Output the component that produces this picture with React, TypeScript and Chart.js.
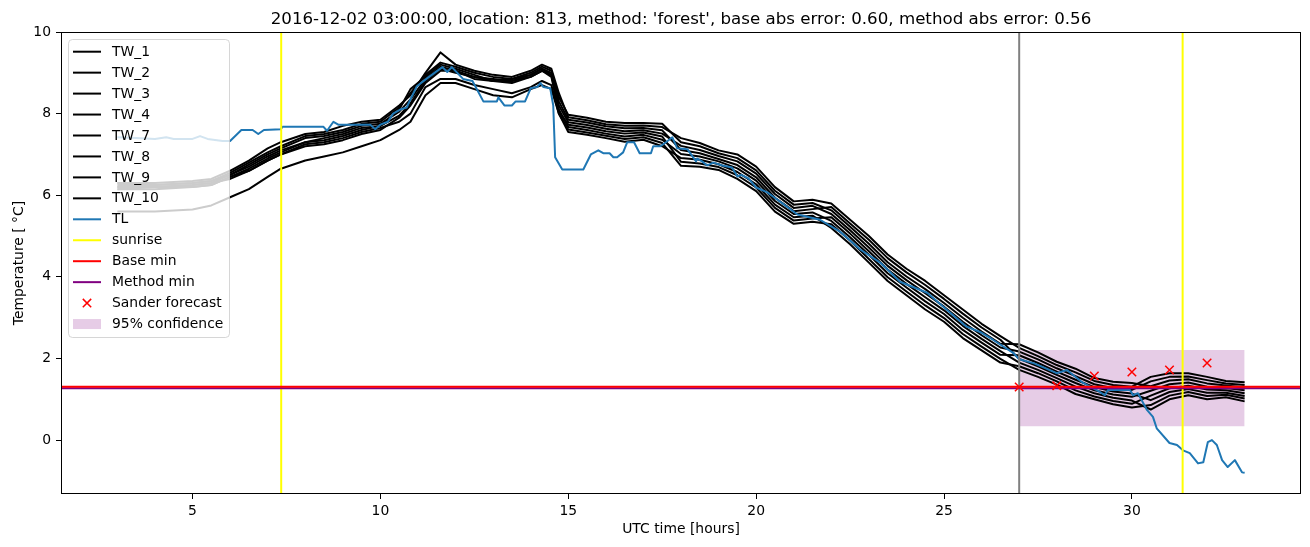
import React, { useEffect, useRef } from "react";
import { Chart, registerables } from "chart.js";

Chart.register(...registerables);

const FONT = "'DejaVu Sans', sans-serif";
const TITLE =
  "2016-12-02 03:00:00, location: 813, method: 'forest', base abs error: 0.60, method abs error: 0.56";
const X_LABEL = "UTC time [hours]";
const Y_LABEL = "Temperature [ °C]";

const X_MIN = 1.5;
const X_MAX = 34.5;
const Y_MIN = -1.32;
const Y_MAX = 10.0;
const X_TICKS = [5, 10, 15, 20, 25, 30];
const Y_TICKS = [0, 2, 4, 6, 8, 10];

const TW_X = [
  3, 4, 5, 5.5, 6, 6.5, 7, 7.35, 8, 8.5, 9, 9.5, 10, 10.5, 10.8, 11.2, 11.6, 12, 12.5, 13,
  13.5, 14, 14.3, 14.55, 14.75, 15, 15.5, 16, 16.5, 17, 17.5, 18, 18.5, 19, 19.5, 20, 20.5, 21,
  21.5, 22, 22.5, 23, 23.5, 24, 24.5, 25, 25.5, 26, 26.5, 27, 27.5, 28, 28.5, 29, 29.5, 30,
  30.5, 31, 31.5, 32, 32.5, 33,
];
const TW_1 = [
  6.25, 6.25, 6.3, 6.35, 6.55, 6.8, 7.05, 7.2, 7.45, 7.5, 7.6, 7.75, 7.8, 8.15, 8.5, 8.95, 9.25,
  9.15, 9.0, 8.9, 8.85, 9.0, 9.15, 9.05, 8.4,
  7.97, 7.9, 7.8, 7.77, 7.77, 7.75, 7.3, 7.2, 7.03, 6.91, 6.61, 6.11, 5.77, 5.81, 5.63, 5.23, 4.81,
  4.36, 4.01, 3.7, 3.36, 3.0, 2.66, 2.36, 2.35, 2.15, 1.92, 1.75, 1.52, 1.43, 1.4, 1.32, 1.46,
  1.49, 1.39, 1.34, 1.29,
];
const TW_2 = [
  6.3, 6.3, 6.35, 6.4, 6.6, 6.85, 7.15, 7.3, 7.5, 7.55, 7.7, 7.8, 7.85, 8.2, 8.45, 9.0, 9.5, 9.2,
  9.05, 8.95, 8.9, 9.05, 9.2, 9.1, 8.5,
  7.91, 7.84, 7.74, 7.7, 7.71, 7.67, 7.4, 7.28, 7.1, 7.0, 6.7, 6.2, 5.85, 5.89, 5.8, 5.4, 5.0,
  4.55, 4.2, 3.9, 3.55, 3.2, 2.85, 2.55, 2.26, 2.06, 1.84, 1.66, 1.45, 1.35, 1.31, 1.55, 1.64,
  1.64, 1.55, 1.45, 1.42,
];
const TW_3 = [
  6.2, 6.2, 6.25, 6.3, 6.5, 6.75, 7.0, 7.15, 7.4, 7.45, 7.55, 7.7, 7.75, 8.05, 8.35, 8.85, 9.15,
  9.05, 8.9, 8.85, 8.8, 8.95, 9.1, 9.0, 8.2,
  7.79, 7.72, 7.63, 7.57, 7.59, 7.51, 7.21, 7.11, 6.96, 6.83, 6.53, 6.03, 5.69, 5.74, 5.54, 5.14,
  4.72, 4.27, 3.92, 3.6, 3.27, 2.9, 2.57, 2.27, 2.17, 1.98, 1.76, 1.57, 1.37, 1.27, 1.23, 1.44,
  1.55, 1.56, 1.47, 1.39, 1.35,
];
const TW_4 = [
  6.3, 6.25, 6.3, 6.35, 6.5, 6.7, 6.95, 7.1, 7.3, 7.4, 7.5, 7.65, 7.7, 8.1, 8.6, 8.9, 9.2, 9.1,
  8.95, 8.8, 8.85, 8.95, 9.1, 8.95, 8.3,
  7.85, 7.78, 7.69, 7.64, 7.65, 7.59, 7.11, 7.03, 6.89, 6.74, 6.44, 5.94, 5.61, 5.66, 5.71, 5.31,
  4.91, 4.46, 4.11, 3.8, 3.46, 3.1, 2.76, 2.46, 1.99, 1.81, 1.6, 1.4, 1.22, 1.12, 1.06, 1.21,
  1.37, 1.41, 1.31, 1.28, 1.22,
];
const TW_7 = [
  6.15, 6.15, 6.2, 6.25, 6.45, 6.65, 6.9, 7.05, 7.3, 7.35, 7.45, 7.6, 7.7, 7.95, 8.25, 8.8, 9.1,
  9.0, 8.9, 8.8, 8.8, 8.9, 9.05, 8.95, 8.1,
  7.67, 7.6, 7.51, 7.44, 7.48, 7.36, 7.01, 6.95, 6.83, 6.66, 6.36, 5.86, 5.54, 5.58, 5.37, 4.97,
  4.54, 4.09, 3.74, 3.4, 3.09, 2.7, 2.39, 2.09, 2.08, 1.89, 1.68, 1.48, 1.3, 1.19, 1.14, 0.98,
  1.18, 1.25, 1.16, 1.16, 1.08,
];
const TW_8 = [
  6.2, 6.2, 6.25, 6.3, 6.4, 6.6, 6.85, 7.0, 7.2, 7.25, 7.35, 7.5, 7.6, 7.9, 8.2, 8.75, 9.05, 9.05,
  8.85, 8.8, 8.75, 8.9, 9.05, 8.9, 8.05,
  7.73, 7.66, 7.57, 7.51, 7.54, 7.44, 6.82, 6.78, 6.69, 6.49, 6.19, 5.69, 5.38, 5.43, 5.46, 5.06,
  4.63, 4.18, 3.83, 3.5, 3.18, 2.8, 2.48, 2.18, 1.9, 1.72, 1.52, 1.31, 1.15, 1.04, 0.97, 0.75,
  1.0, 1.1, 1.0, 1.05, 0.95,
];
const TW_9 = [
  6.15, 6.2, 6.2, 6.25, 6.45, 6.6, 6.85, 7.0, 7.25, 7.3, 7.4, 7.55, 7.65, 7.8, 8.0, 8.65, 8.85,
  8.85, 8.7, 8.6, 8.5, 8.65, 8.8, 8.7, 8.0,
  7.55, 7.48, 7.4, 7.31, 7.36, 7.2, 6.91, 6.87, 6.76, 6.57, 6.27, 5.77, 5.46, 5.5, 5.2, 4.8, 4.35,
  3.9, 3.55, 3.2, 2.9, 2.5, 2.2, 1.9, 1.81, 1.64, 1.44, 1.22, 1.07, 0.96, 0.89, 1.09, 1.27, 1.33,
  1.24, 1.22, 1.15,
];
const TW_10 = [
  5.6, 5.6, 5.65, 5.75, 5.95, 6.15, 6.45, 6.65, 6.85, 6.95, 7.05, 7.2, 7.35, 7.6, 7.8, 8.45, 8.75,
  8.75, 8.6, 8.45, 8.4, 8.6, 8.7, 8.6, 8.0,
  7.61, 7.54, 7.46, 7.38, 7.42, 7.28, 6.72, 6.7, 6.62, 6.4, 6.1, 5.6, 5.3, 5.35, 5.29, 4.89, 4.44,
  3.99, 3.64, 3.3, 2.99, 2.6, 2.29, 1.99, 1.72, 1.55, 1.36, 1.13, 1.0, 0.88, 0.8, 0.86, 1.09,
  1.18, 1.08, 1.11, 1.02,
];

const TL_X = [
  3, 3.5, 4, 4.3, 4.5, 5.0, 5.2, 5.4, 5.8, 6.0, 6.3, 6.6, 6.75, 6.9, 7.35, 7.4, 8.48, 8.58, 8.75,
  8.88, 9.73, 9.86, 10.0, 10.2, 10.34, 10.53, 10.7, 10.8, 10.97, 11.25, 11.65, 11.78, 11.9, 12.2,
  12.45, 12.74, 13.1, 13.14, 13.3, 13.5, 13.6, 13.85, 14.0, 14.17, 14.26, 14.34, 14.52, 14.6,
  14.65, 14.84, 15.4, 15.6, 15.8, 15.93, 16.1, 16.2, 16.3, 16.46, 16.57, 16.75, 16.9, 17.2, 17.26,
  17.45, 17.6, 17.77, 17.9, 18.17, 18.4, 18.43, 18.56, 18.7, 18.86, 19.1, 19.36, 19.5, 19.6, 19.8,
  20.0, 20.3, 20.45, 20.7, 21.1, 21.7, 22.23, 22.77, 23.3, 23.83, 24.55, 25.08, 25.6, 25.96, 26.3,
  26.84, 27.0, 27.4, 28.0, 28.27, 28.7, 29.15, 29.28, 29.36, 29.95, 30.03, 30.16, 30.4, 30.56,
  30.66, 31.0, 31.2, 31.36, 31.54, 31.76, 31.9, 32.02, 32.13, 32.26, 32.4, 32.55, 32.74, 32.93, 33.0,
];
const TL_Y = [
  7.42, 7.4, 7.38, 7.42, 7.38, 7.38, 7.45, 7.38, 7.33, 7.33, 7.6, 7.6, 7.5, 7.6, 7.62, 7.68, 7.68,
  7.58, 7.8, 7.73, 7.73, 7.62, 7.73, 7.8, 8.0, 8.1, 8.15, 8.35, 8.67, 8.87, 9.14, 9.02, 9.14, 8.85,
  8.8, 8.3, 8.3, 8.4, 8.2, 8.2, 8.3, 8.3, 8.62, 8.65, 8.75, 8.65, 8.62, 8.2, 6.93, 6.63, 6.63, 7.0,
  7.1, 7.03, 7.03, 6.93, 6.93, 7.05, 7.3, 7.3, 7.03, 7.03, 7.2, 7.2, 7.3, 7.42, 7.15, 7.13, 6.83,
  6.9, 6.83, 6.73, 6.8, 6.73, 6.68, 6.46, 6.5, 6.41, 6.19, 6.07, 5.97, 5.8, 5.53, 5.4, 5.11, 4.67,
  4.35, 3.88, 3.61, 3.19, 2.78, 2.65, 2.46, 2.14, 1.98, 1.88, 1.64, 1.72, 1.4, 1.18, 1.1, 1.23,
  1.23, 1.1, 1.15, 0.74, 0.57, 0.29, -0.07, -0.12, -0.25, -0.32, -0.57, -0.54, -0.05, 0.0, -0.12,
  -0.49, -0.66, -0.49, -0.79, -0.8,
];

const SUNRISE_X = [7.36, 31.35];
const FORECAST_X = 27;
const BASE_MIN = 1.31;
const METHOD_MIN = 1.27;
const SANDER_X = [27, 28, 29, 30, 31, 32];
const SANDER_Y = [1.3, 1.33, 1.57, 1.67, 1.72, 1.89];
const CONF_X = [27, 33];
const CONF_LOW = 0.34;
const CONF_HIGH = 2.21;

const TW_NAMES = ["TW_1", "TW_2", "TW_3", "TW_4", "TW_7", "TW_8", "TW_9", "TW_10"];
const TW_SERIES = [TW_1, TW_2, TW_3, TW_4, TW_7, TW_8, TW_9, TW_10];

const C_TL = "#1f77b4";
const C_SUN = "#ffff00";
const C_BASE = "#ff0000";
const C_METHOD = "#800080";
const C_CONF = "rgba(128,0,128,0.2)";

type LegendItem = { label: string; kind: "line" | "marker" | "patch"; color: string };
const LEGEND: LegendItem[] = [
  ...TW_NAMES.map((n) => ({ label: n, kind: "line" as const, color: "#000000" })),
  { label: "TL", kind: "line", color: C_TL },
  { label: "sunrise", kind: "line", color: C_SUN },
  { label: "Base min", kind: "line", color: C_BASE },
  { label: "Method min", kind: "line", color: C_METHOD },
  { label: "Sander forecast", kind: "marker", color: "#ff0000" },
  { label: "95% confidence", kind: "patch", color: C_CONF },
];

const pts = (xs: number[], ys: number[]) => xs.map((x, i) => ({ x, y: ys[i] }));

const decor = {
  id: "decor",
  afterDatasetsDraw(chart: any) {
    const ctx = chart.ctx as CanvasRenderingContext2D;
    const a = chart.chartArea;
    const lx = a.left + 7;
    const ly = a.top + 7;
    const lw = 161;
    const lh = 298;
    ctx.save();
    ctx.beginPath();
    if ((ctx as any).roundRect) (ctx as any).roundRect(lx + 0.5, ly + 0.5, lw, lh, 4);
    else ctx.rect(lx + 0.5, ly + 0.5, lw, lh);
    ctx.fillStyle = "rgba(255,255,255,0.8)";
    ctx.fill();
    ctx.strokeStyle = "rgba(204,204,204,0.8)";
    ctx.lineWidth = 1;
    ctx.stroke();
    ctx.font = `13.9px ${FONT}`;
    ctx.textBaseline = "middle";
    ctx.textAlign = "left";
    LEGEND.forEach((it, i) => {
      const cy = ly + 12.7 + i * 20.95;
      const hx0 = lx + 5;
      const hx1 = lx + 33;
      if (it.kind === "line") {
        ctx.beginPath();
        ctx.moveTo(hx0, cy);
        ctx.lineTo(hx1, cy);
        ctx.strokeStyle = it.color;
        ctx.lineWidth = 2;
        ctx.stroke();
      } else if (it.kind === "marker") {
        const cx = (hx0 + hx1) / 2;
        const r = 4.2;
        ctx.beginPath();
        ctx.moveTo(cx - r, cy - r);
        ctx.lineTo(cx + r, cy + r);
        ctx.moveTo(cx - r, cy + r);
        ctx.lineTo(cx + r, cy - r);
        ctx.strokeStyle = it.color;
        ctx.lineWidth = 1.5;
        ctx.stroke();
      } else {
        ctx.fillStyle = it.color;
        ctx.fillRect(hx0, cy - 5, hx1 - hx0, 10);
      }
      ctx.fillStyle = "#000";
      ctx.fillText(it.label, lx + 44, cy + 0.5);
    });
    ctx.restore();
  },
  afterDraw(chart: any) {
    const ctx = chart.ctx as CanvasRenderingContext2D;
    const a = chart.chartArea;
    ctx.save();
    ctx.strokeStyle = "#000";
    ctx.lineWidth = 1;
    ctx.strokeRect(Math.round(a.left) + 0.5, Math.round(a.top) + 0.5, a.right - a.left - 1, a.bottom - a.top - 1);
    const cx = (a.left + a.right) / 2;
    ctx.fillStyle = "#000";
    ctx.textAlign = "center";
    ctx.textBaseline = "alphabetic";
    ctx.font = `16.67px ${FONT}`;
    ctx.fillText(TITLE, cx, 24);
    ctx.font = `13.9px ${FONT}`;
    ctx.fillText(X_LABEL, cx, 533);
    ctx.translate(22.5, (a.top + a.bottom) / 2);
    ctx.rotate(-Math.PI / 2);
    ctx.fillText(Y_LABEL, 0, 0);
    ctx.restore();
  },
};

export default function App() {
  const ref = useRef<HTMLCanvasElement>(null);
  useEffect(() => {
    document.body.style.margin = "0";
    const canvas = ref.current!;
    const line = (label: string, data: any[], color: string, order: number, width = 2) => ({
      label,
      data,
      borderColor: color,
      backgroundColor: color,
      borderWidth: width,
      pointRadius: 0,
      fill: false,
      tension: 0,
      borderJoinStyle: "round" as const,
      order,
    });
    const datasets: any[] = [];
    datasets.push({
      label: "95% confidence",
      data: pts(CONF_X, CONF_X.map(() => CONF_HIGH)),
      borderWidth: 0,
      pointRadius: 0,
      backgroundColor: C_CONF,
      fill: { value: CONF_LOW },
      order: 100,
    });
    TW_SERIES.forEach((s, i) => datasets.push(line(TW_NAMES[i], pts(TW_X, s), "#000000", 60 + i)));
    datasets.push(line("TL", pts(TL_X, TL_Y), C_TL, 50));
    SUNRISE_X.forEach((x, i) =>
      datasets.push(line(i === 0 ? "sunrise" : "sunrise2", [{ x, y: Y_MIN }, { x, y: Y_MAX }], C_SUN, 40))
    );
    datasets.push(line("forecast", [{ x: FORECAST_X, y: Y_MIN }, { x: FORECAST_X, y: Y_MAX }], "#808080", 45));
    datasets.push(line("Method min", [{ x: X_MIN, y: METHOD_MIN }, { x: X_MAX, y: METHOD_MIN }], C_METHOD, 21));
    datasets.push(line("Base min", [{ x: X_MIN, y: BASE_MIN }, { x: X_MAX, y: BASE_MIN }], C_BASE, 20));
    datasets.push({
      label: "Sander forecast",
      data: pts(SANDER_X, SANDER_Y),
      showLine: false,
      pointStyle: "crossRot",
      pointRadius: 6,
      pointBorderColor: "#ff0000",
      pointBackgroundColor: "#ff0000",
      pointBorderWidth: 1.5,
      borderColor: "#ff0000",
      order: 10,
    });

    const tickFont = { family: FONT, size: 13.9 };
    const chart = new Chart(canvas, {
      type: "line",
      data: { datasets },
      plugins: [decor],
      options: {
        responsive: false,
        animation: false,
        devicePixelRatio: 1,
        layout: { padding: { top: 32, right: 9, left: 0, bottom: 0 } },
        plugins: { legend: { display: false }, tooltip: { enabled: false }, title: { display: false } },
        scales: {
          x: {
            type: "linear",
            min: X_MIN,
            max: X_MAX,
            afterBuildTicks: (s: any) => {
              s.ticks = X_TICKS.map((v) => ({ value: v }));
            },
            afterFit: (s: any) => {
              s.height = 53;
            },
            grid: { drawOnChartArea: false, drawTicks: true, tickLength: 5, color: "#000", tickWidth: 1 },
            border: { display: false },
            ticks: {
              font: tickFont,
              color: "#000",
              padding: 4,
              maxRotation: 0,
              autoSkip: false,
              callback: (v: any) => String(v),
            },
          },
          y: {
            type: "linear",
            min: Y_MIN,
            max: Y_MAX,
            afterBuildTicks: (s: any) => {
              s.ticks = Y_TICKS.map((v) => ({ value: v }));
            },
            afterFit: (s: any) => {
              s.width = 61;
            },
            grid: { drawOnChartArea: false, drawTicks: true, tickLength: 5, color: "#000", tickWidth: 1 },
            border: { display: false },
            ticks: {
              font: tickFont,
              color: "#000",
              padding: 5,
              autoSkip: false,
              callback: (v: any) => String(v),
            },
          },
        },
      } as any,
    });
    return () => chart.destroy();
  }, []);
  return (
    <div style={{ width: 1310, height: 547 }}>
      <canvas ref={ref} width={1310} height={547} style={{ display: "block", width: 1310, height: 547 }} />
    </div>
  );
}
